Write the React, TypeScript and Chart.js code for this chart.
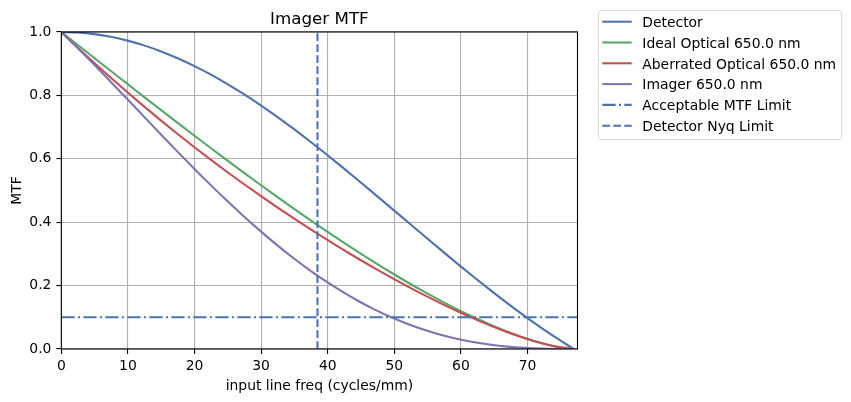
import React, { useEffect, useRef } from "react";
import { Chart, registerables } from "chart.js";

Chart.register(...registerables);

// Spatial frequency samples (cycles/mm)
const FREQ = [
  0, 2.48, 4.96, 7.44, 9.93, 12.41, 14.89, 17.37, 19.85, 22.33, 24.81, 27.29,
  29.78, 32.26, 34.74, 37.22, 39.7, 42.18, 44.66, 47.14, 49.63, 52.11, 54.59,
  57.07, 59.55, 62.03, 64.51, 66.99, 69.48, 71.96, 74.44, 76.92,
];

const DETECTOR = [
  1, 0.9983, 0.9932, 0.9847, 0.9728, 0.9578, 0.9395, 0.9182, 0.894, 0.867,
  0.8374, 0.8054, 0.7711, 0.7348, 0.6967, 0.657, 0.6159, 0.5737, 0.5307, 0.487,
  0.4429, 0.3988, 0.3547, 0.311, 0.2678, 0.2255, 0.1842, 0.1441, 0.1055,
  0.0685, 0.0333, 0,
];

const IDEAL_OPTICAL = [
  1, 0.9589, 0.9179, 0.877, 0.8362, 0.7955, 0.7551, 0.715, 0.6751, 0.6356,
  0.5965, 0.5579, 0.5197, 0.4822, 0.4452, 0.4089, 0.3733, 0.3386, 0.3047,
  0.2717, 0.2398, 0.209, 0.1794, 0.1511, 0.1244, 0.0992, 0.0759, 0.0546,
  0.0356, 0.0195, 0.0069, 0,
];

const ABERRATED_OPTICAL = [
  1, 0.9506, 0.9024, 0.8555, 0.8099, 0.7654, 0.7221, 0.68, 0.6389, 0.5989,
  0.56, 0.5221, 0.4852, 0.4493, 0.4143, 0.3803, 0.3472, 0.3151, 0.2839,
  0.2537, 0.2244, 0.1962, 0.169, 0.143, 0.1183, 0.0949, 0.073, 0.0528, 0.0347,
  0.0192, 0.0069, 0,
];

const IMAGER = [
  1, 0.9489, 0.8963, 0.8424, 0.7878, 0.7331, 0.6784, 0.6243, 0.5712, 0.5193,
  0.469, 0.4205, 0.3742, 0.3301, 0.2887, 0.2499, 0.2138, 0.1808, 0.1507,
  0.1235, 0.0994, 0.0782, 0.06, 0.0445, 0.0317, 0.0214, 0.0134, 0.0076,
  0.0037, 0.0013, 0.0002, 0,
];

const MTF_LIMIT = 0.1;
const NYQUIST = 38.46;
const X_MAX = 77.5;

const X_TICKS = [0, 10, 20, 30, 40, 50, 60, 70];
const Y_TICKS = [0, 0.2, 0.4, 0.6, 0.8, 1.0];

const SERIES_LABELS = [
  "Detector",
  "Ideal Optical 650.0 nm",
  "Aberrated Optical 650.0 nm",
  "Imager 650.0 nm",
  "Acceptable MTF Limit",
  "Detector Nyq Limit",
];
const SERIES_COLORS = ["#4C72B0", "#55A868", "#C44E52", "#8172B2", "#4C72B0", "#4C72B0"];
const SERIES_DASH: number[][] = [[], [], [], [], [13.3, 3.3, 2.1, 3.3], [7.7, 3.3]];

const FONT = "DejaVu Sans";
const LINE_W = 2.08;

const toPoints = (ys: number[]) => FREQ.map((x, i) => ({ x, y: ys[i] }));

const decorations = {
  id: "decorations",
  afterDatasetsDraw(chart: any) {
    const { ctx, chartArea: a } = chart;
    ctx.save();
    ctx.strokeStyle = "#000";
    ctx.lineWidth = 1.1;
    ctx.strokeRect(a.left, a.top, a.right - a.left, a.bottom - a.top);
    ctx.restore();
  },
  afterDraw(chart: any) {
    const { ctx, chartArea: a } = chart;
    const cx = (a.left + a.right) / 2;
    ctx.save();
    ctx.fillStyle = "#000";
    ctx.textBaseline = "alphabetic";
    ctx.textAlign = "center";

    ctx.font = `16.7px "${FONT}"`;
    ctx.fillText("Imager MTF", cx, a.top - 8.3);

    ctx.font = `13.9px "${FONT}"`;
    ctx.fillText("input line freq (cycles/mm)", cx, 389.5);

    ctx.save();
    ctx.translate(21, (a.top + a.bottom) / 2);
    ctx.rotate(-Math.PI / 2);
    ctx.fillText("MTF", 0, 0);
    ctx.restore();

    // legend
    const bx = 598.5, by = 10.5, bw = 243, bh = 129;
    ctx.beginPath();
    ctx.roundRect(bx, by, bw, bh, 3);
    ctx.fillStyle = "rgba(255,255,255,0.8)";
    ctx.fill();
    ctx.strokeStyle = "#d6d6d6";
    ctx.lineWidth = 1;
    ctx.stroke();

    ctx.textAlign = "left";
    ctx.font = `13.9px "${FONT}"`;
    SERIES_LABELS.forEach((label, i) => {
      const y = 21.7 + i * 20.8;
      ctx.beginPath();
      ctx.setLineDash(SERIES_DASH[i]);
      ctx.strokeStyle = SERIES_COLORS[i];
      ctx.lineWidth = LINE_W;
      ctx.lineCap = "butt";
      ctx.moveTo(602.3, y);
      ctx.lineTo(631.7, y);
      ctx.stroke();
      ctx.setLineDash([]);
      ctx.fillStyle = "#000";
      ctx.fillText(label, 642.3, y + 5.3);
    });
    ctx.restore();
  },
};

export default function App() {
  const ref = useRef<HTMLCanvasElement | null>(null);

  useEffect(() => {
    const canvas = ref.current;
    if (!canvas) return;

    const curves = [DETECTOR, IDEAL_OPTICAL, ABERRATED_OPTICAL, IMAGER];
    const datasets: any[] = curves.map((ys, i) => ({
      label: SERIES_LABELS[i],
      data: toPoints(ys),
      borderColor: SERIES_COLORS[i],
      borderWidth: LINE_W,
      borderDash: SERIES_DASH[i],
      pointRadius: 0,
      fill: false,
      cubicInterpolationMode: "monotone",
      order: 5 - i,
    }));
    datasets.push({
      label: SERIES_LABELS[4],
      data: [
        { x: 0, y: MTF_LIMIT },
        { x: X_MAX, y: MTF_LIMIT },
      ],
      borderColor: SERIES_COLORS[4],
      borderWidth: LINE_W,
      borderDash: SERIES_DASH[4],
      borderCapStyle: "butt",
      pointRadius: 0,
      fill: false,
      order: 1,
    });
    datasets.push({
      label: SERIES_LABELS[5],
      data: [
        { x: NYQUIST, y: 0 },
        { x: NYQUIST, y: 1 },
      ],
      borderColor: SERIES_COLORS[5],
      borderWidth: LINE_W,
      borderDash: SERIES_DASH[5],
      borderCapStyle: "butt",
      pointRadius: 0,
      fill: false,
      order: 0,
    });

    const tickFont = { family: FONT, size: 13.9 };
    const grid = {
      color: "#b0b0b0",
      lineWidth: 1.1,
      tickColor: "#000",
      tickLength: 4.9,
      tickWidth: 1.1,
    };

    const chart = new Chart(canvas, {
      type: "line",
      data: { datasets },
      options: {
        responsive: false,
        animation: false,
        devicePixelRatio: 1,
        layout: { padding: { left: 0, top: 32, right: 273.5, bottom: 0 } },
        plugins: {
          legend: { display: false },
          tooltip: { enabled: false },
          title: { display: false },
        },
        scales: {
          x: {
            type: "linear",
            min: 0,
            max: X_MAX,
            grid,
            border: { display: false },
            afterBuildTicks: (s: any) => {
              s.ticks = X_TICKS.map((value) => ({ value }));
            },
            afterFit: (s: any) => {
              s.height = 53;
            },
            ticks: {
              color: "#000",
              font: tickFont,
              padding: 4,
              maxRotation: 0,
              autoSkip: false,
              callback: (v: any) => String(v),
            },
          },
          y: {
            type: "linear",
            min: 0,
            max: 1,
            grid,
            border: { display: false },
            afterBuildTicks: (s: any) => {
              s.ticks = Y_TICKS.map((value) => ({ value }));
            },
            afterFit: (s: any) => {
              s.width = 61.3;
            },
            ticks: {
              color: "#000",
              font: tickFont,
              padding: 5,
              autoSkip: false,
              callback: (v: any) => Number(v).toFixed(1),
            },
          },
        },
      },
      plugins: [decorations],
    });

    return () => chart.destroy();
  }, []);

  return (
    <div style={{ position: "absolute", left: 0, top: 0, width: 851, height: 402, background: "#fff" }}>
      <canvas ref={ref} width={851} height={402} style={{ display: "block" }} />
    </div>
  );
}
